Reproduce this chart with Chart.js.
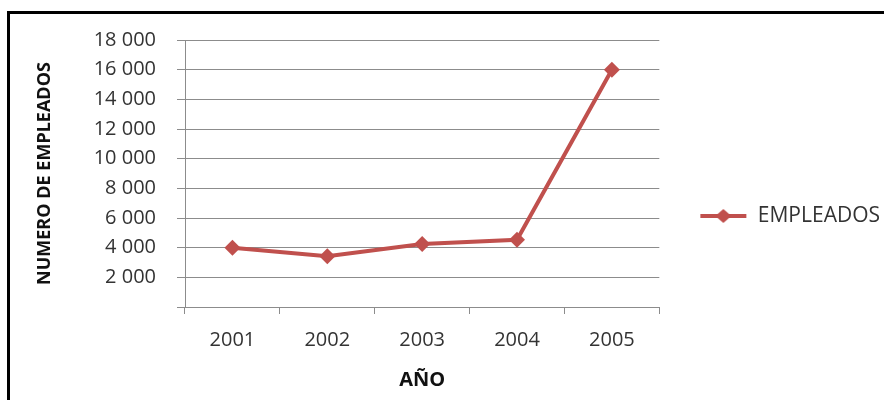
<!DOCTYPE html>
<html>
<head>
<meta charset="utf-8">
<script src="https://cdn.jsdelivr.net/npm/chart.js@4/dist/chart.umd.min.js"></script>
<style>
  html, body { margin: 0; padding: 0; background: #fff; }
  #wrap { position: relative; width: 884px; height: 400px; overflow: hidden; }
  #frame { position: absolute; left: 7px; top: 11px; width: 900px; height: 420px;
           border-top: 3px solid #000; border-left: 3px solid #000; box-sizing: border-box; pointer-events: none; }
  canvas { position: absolute; left: 0; top: 0; }
</style>
</head>
<body>
<div id="wrap">
  <canvas id="c" width="884" height="400"></canvas>
  <div id="frame"></div>
</div>
<script>
const years = ['2001', '2002', '2003', '2004', '2005'];
const empleados = [4000, 3420, 4250, 4530, 16000];
const seriesName = 'EMPLEADOS';
const yTitle = 'NUMERO DE EMPLEADOS';
const xTitle = 'AÑO';
const yMin = 0, yMax = 18000, yStep = 2000;

const red = '#C0504D';
const gridColor = '#8C8C8C';
const textColor = '#333333';
const fontFam = "'Open Sans', 'DejaVu Sans', sans-serif";

// legend marker: line with diamond
const mk = document.createElement('canvas');
mk.width = 48; mk.height = 16;
(function () {
  const g = mk.getContext('2d');
  g.strokeStyle = red; g.lineWidth = 4;
  g.beginPath(); g.moveTo(1, 8); g.lineTo(47, 8); g.stroke();
  g.fillStyle = red;
  g.beginPath(); g.moveTo(24, 1); g.lineTo(32, 8); g.lineTo(24, 15); g.lineTo(16, 8); g.closePath(); g.fill();
})();

function fmt(v) {
  return String(v).replace(/\B(?=(\d{3})+(?!\d))/g, ' ');
}

new Chart(document.getElementById('c'), {
  type: 'line',
  data: {
    labels: years,
    datasets: [{
      label: seriesName,
      data: empleados,
      borderColor: red,
      backgroundColor: red,
      borderWidth: 4,
      pointStyle: 'rectRot',
      pointRadius: 8,
      pointHoverRadius: 8,
      pointBackgroundColor: red,
      pointBorderColor: red,
      pointBorderWidth: 0,
      tension: 0
    }]
  },
  options: {
    responsive: false,
    animation: false,
    events: [],
    layout: { padding: { left: 34, top: 40, right: -6, bottom: 8 } },
    plugins: {
      tooltip: { enabled: false },
      legend: {
        position: 'right',
        maxWidth: 260,
        labels: {
          usePointStyle: true,
          pointStyleWidth: 48,
          color: textColor,
          font: { family: fontFam, size: 21 },
          padding: 40,
          generateLabels: function (chart) {
            return chart.data.datasets.map((ds, i) => ({
              text: ds.label,
              fillStyle: red,
              strokeStyle: red,
              lineWidth: 0,
              pointStyle: mk,
              datasetIndex: i,
              fontColor: textColor
            }));
          }
        }
      }
    },
    scales: {
      x: {
        offset: true,
        grid: { offset: true, drawOnChartArea: false, drawTicks: true, tickLength: 7, color: gridColor },
        border: { color: gridColor, width: 1 },
        ticks: { color: textColor, font: { family: fontFam, size: 20 }, padding: 14 },
        title: { display: true, text: xTitle, color: '#111', font: { family: fontFam, size: 20, weight: 'bold' }, padding: { top: 10, bottom: 0 } },
        afterFit: function (s) { s.height = 85; }
      },
      y: {
        min: yMin, max: yMax,
        grid: { color: gridColor, tickLength: 8, lineWidth: 1 },
        border: { color: gridColor, width: 1 },
        ticks: {
          stepSize: yStep,
          color: textColor,
          font: { family: fontFam, size: 20 },
          padding: 21,
          callback: function (v) { return v === 0 ? '' : fmt(v); }
        },
        title: { display: true, text: yTitle, color: '#111', font: { family: fontFam, size: 18, weight: 'bold' }, padding: { top: 0, bottom: 10 } },
        afterFit: function (s) { s.width = 151; }
      }
    }
  }
});
</script>
</body>
</html>
